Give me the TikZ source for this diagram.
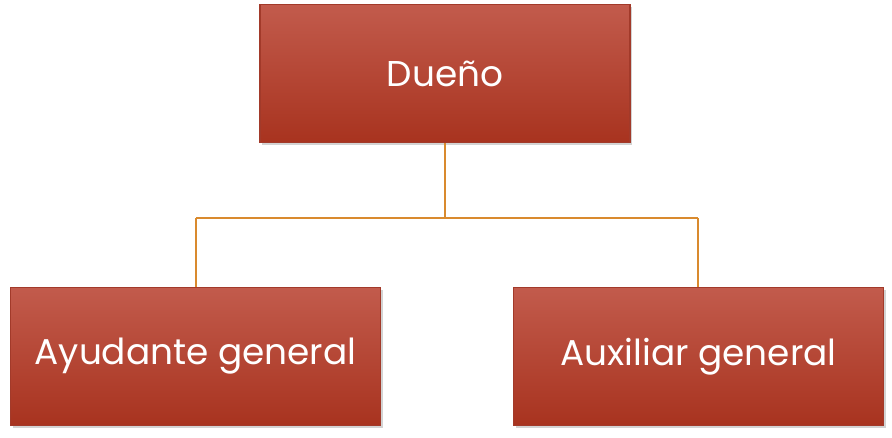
\documentclass[tikz,border=0pt]{standalone}
\usepackage{fontspec}
\setmainfont{Poppins}
\usetikzlibrary{shadows}
\definecolor{boxtop}{HTML}{C25B4C}
\definecolor{boxbot}{HTML}{A8331F}
\definecolor{boxline}{HTML}{A23A2A}
\definecolor{linkline}{HTML}{D98A2E}
\tikzset{
  rolebox/.style={draw=boxline, line width=0.8pt, top color=boxtop, bottom color=boxbot,
    minimum width=9.25cm, minimum height=3.45cm, text=white, inner sep=0pt,
    font=\fontsize{25.5}{30}\selectfont,
    drop shadow={opacity=0.35, shadow xshift=0.06cm, shadow yshift=-0.06cm}},
  link/.style={draw=linkline, line width=1pt}
}
\begin{document}
\begin{tikzpicture}[x=0.025cm,y=-0.025cm]
\useasboundingbox (0,0) rectangle (892,437);
% Boxes
\node[rolebox] (owner) at (445,73.5) {Dueño};
\node[rolebox] (helper) at (195.5,356.5) {Ayudante general};
\node[rolebox] (aux) at (698.5,356.5) {Auxiliar general};
% Connectors
\coordinate (bus) at (445,218);
\coordinate (busl) at (196,218);
\coordinate (busr) at (698,218);
\draw[link] (owner.south) -- (bus);
\draw[link] (busl) -- (busr);
\draw[link] ([yshift=-4]busl) -- (busl) -- (busl |- helper.north);
\draw[link] ([yshift=-4]busr) -- (busr) -- (busr |- aux.north);
\end{tikzpicture}
\end{document}
